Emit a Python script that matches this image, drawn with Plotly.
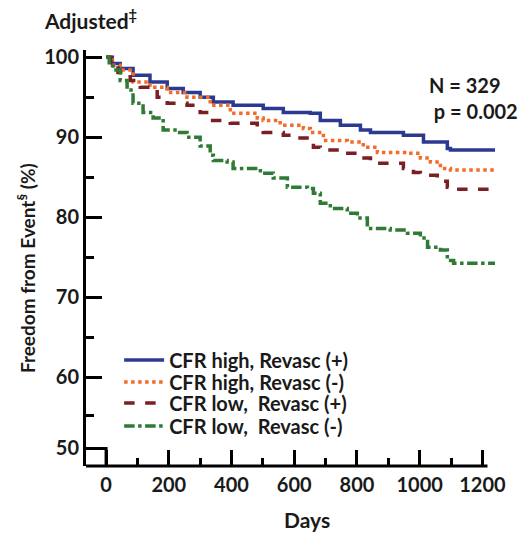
import plotly.graph_objects as go

# ---- data ----
blue_days = [0, 20, 45, 86, 140, 195, 246, 300, 342, 405, 501, 565, 651, 683, 747, 811, 843, 948, 1012, 1088, 1098, 1240]
blue_vals = [100, 99.2, 98.6, 97.75, 96.9, 96.1, 95.6, 95.0, 94.4, 94.0, 93.6, 93.1, 93.0, 92.1, 91.5, 90.9, 90.6, 90.25, 89.4, 88.6, 88.4, 88.4]

orange_days = [0, 20, 45, 86, 140, 195, 258, 332, 396, 482, 501, 555, 629, 651, 693, 769, 820, 865, 961, 1002, 1034, 1066, 1098, 1240]
orange_vals = [100, 99.0, 98.4, 96.9, 96.25, 95.6, 95.0, 94.0, 93.0, 92.4, 92.1, 91.5, 91.1, 90.6, 89.6, 89.4, 88.75, 88.1, 88.0, 87.4, 86.9, 86.1, 85.9, 85.75]

red_days = [0, 15, 38, 77, 109, 163, 195, 258, 300, 332, 396, 482, 501, 565, 610, 651, 661, 683, 747, 811, 843, 948, 980, 1002, 1056, 1088, 1108, 1240]
red_vals = [100, 99.0, 98.1, 97.1, 96.25, 95.0, 94.25, 94.0, 93.1, 92.1, 91.75, 91.1, 90.6, 90.25, 89.9, 89.6, 88.75, 88.4, 88.0, 87.4, 86.75, 86.1, 85.6, 85.25, 84.5, 83.75, 83.5, 83.5]

green_days = [0, 10, 22, 45, 67, 86, 118, 150, 182, 227, 258, 300, 332, 342, 386, 405, 469, 492, 533, 578, 642, 661, 683, 715, 769, 801, 833, 906, 961, 1002, 1025, 1066, 1088, 1108, 1240]
green_vals = [100, 99.3, 98.4, 97.1, 95.9, 94.25, 93.1, 92.4, 90.9, 90.6, 90.0, 88.9, 87.75, 87.1, 86.9, 86.1, 86.1, 85.5, 84.9, 83.75, 83.6, 83.0, 81.75, 81.1, 80.5, 79.9, 78.6, 78.4, 78.0, 77.4, 76.25, 75.9, 74.6, 74.25, 74.25]

series_names = ["CFR high, Revasc (+)", "CFR high, Revasc (-)",
                "CFR low,\u00a0 Revasc (+)", "CFR low,\u00a0 Revasc (-)"]
x_ticks = [0, 200, 400, 600, 800, 1000, 1200]
x_minor = [100, 300, 500, 700, 900, 1100]
y_ticks = [51.1, 60, 70, 80, 90, 100]
y_ticktext = ["50", "60", "70", "80", "90", "100"]
y_minor = [55.25, 65, 75, 85, 95]

FONT = "Lato"
colors = ["#2B3990", "#F26C2A", "#7A1F24", "#2F7A35"]
dashes = ["solid", "dot", "dash", "dashdot"]
legend_ids = ["legend", "legend2", "legend3", "legend4"]
legend_rows = [0.2548, 0.2019, 0.1514, 0.0962]

fig = go.Figure()
for d, v, n, c, ds, lg in zip([blue_days, orange_days, red_days, green_days],
                              [blue_vals, orange_vals, red_vals, green_vals],
                              series_names, colors, dashes, legend_ids):
    fig.add_trace(go.Scatter(x=d, y=v, mode="lines", name=n, line_shape="hv", legend=lg,
                             line=dict(color=c, width=3.5, dash=ds)))

XMIN, XMAX = -64, 1240
YMIN, YMAX = 48.9, 100.9

legend_layout = {}
for lg, yy in zip(legend_ids, legend_rows):
    legend_layout[lg] = dict(x=0.081, y=yy, xanchor="left", yanchor="middle",
                             bgcolor="rgba(0,0,0,0)", itemwidth=40,
                             font=dict(size=20, family=FONT, weight="bold", color="#1a1a1a"))

fig.update_layout(
    width=529, height=533,
    margin=dict(l=86, r=34, t=50, b=67),
    paper_bgcolor="white", plot_bgcolor="white",
    font=dict(family=FONT, size=20, color="#1a1a1a", weight="bold"),
    showlegend=True,
    xaxis=dict(range=[XMIN, XMAX], showline=False, showgrid=False, zeroline=False,
               automargin=False,
               tickvals=x_ticks, ticks="inside", ticklen=16, tickwidth=3, tickcolor="black",
               ticklabelstandoff=5, tickfont=dict(size=20, family=FONT, weight="bold"),
               minor=dict(tickvals=x_minor, ticks="inside", ticklen=8, tickwidth=3, tickcolor="black")),
    yaxis=dict(range=[YMIN, YMAX], showline=True, linewidth=3, linecolor="black",
               showgrid=False, zeroline=False, automargin=False,
               tickvals=y_ticks, ticktext=y_ticktext, ticks="inside", ticklen=16, tickwidth=3,
               tickcolor="black", tickfont=dict(size=20, family=FONT, weight="bold"),
               minor=dict(tickvals=y_minor, ticks="inside", ticklen=8, tickwidth=3, tickcolor="black")),
    **legend_layout,
)

# x axis line (ends at 1216) and broken-axis box
fig.add_shape(type="line", xref="x", yref="paper", x0=XMIN, x1=1216, y0=0, y1=0,
              line=dict(color="black", width=3))
fig.add_shape(type="path", xref="x", yref="y",
              path=f"M {XMIN},51.1 L 0,51.1 L 0,{YMIN}",
              line=dict(color="black", width=3))

fig.add_annotation(xref="paper", yref="paper", x=-0.144, y=0.476, xanchor="center", yanchor="middle",
                   text="Freedom from Event<sup>§</sup> (%)", textangle=-90, showarrow=False,
                   font=dict(size=19, family=FONT, weight="bold"))
fig.add_annotation(xref="paper", yref="paper", x=0.54, y=-0.128, xanchor="center", yanchor="middle",
                   text="Days", showarrow=False,
                   font=dict(size=21, family=FONT, weight="bold"))
fig.add_annotation(xref="paper", yref="paper", x=-0.108, y=1.074, xanchor="left", yanchor="middle",
                   text="Adjusted<sup>‡</sup>", showarrow=False,
                   font=dict(size=21, family=FONT, weight="bold"))
fig.add_annotation(xref="paper", yref="paper", x=0.834, y=0.885, xanchor="left", yanchor="middle",
                   align="left", text="N = 329<br> p = 0.002", showarrow=False,
                   font=dict(size=20, family=FONT, weight="bold"))

fig.write_html("out.html", config={"displayModeBar": False},
               post_script="document.body.style.margin='0';")
